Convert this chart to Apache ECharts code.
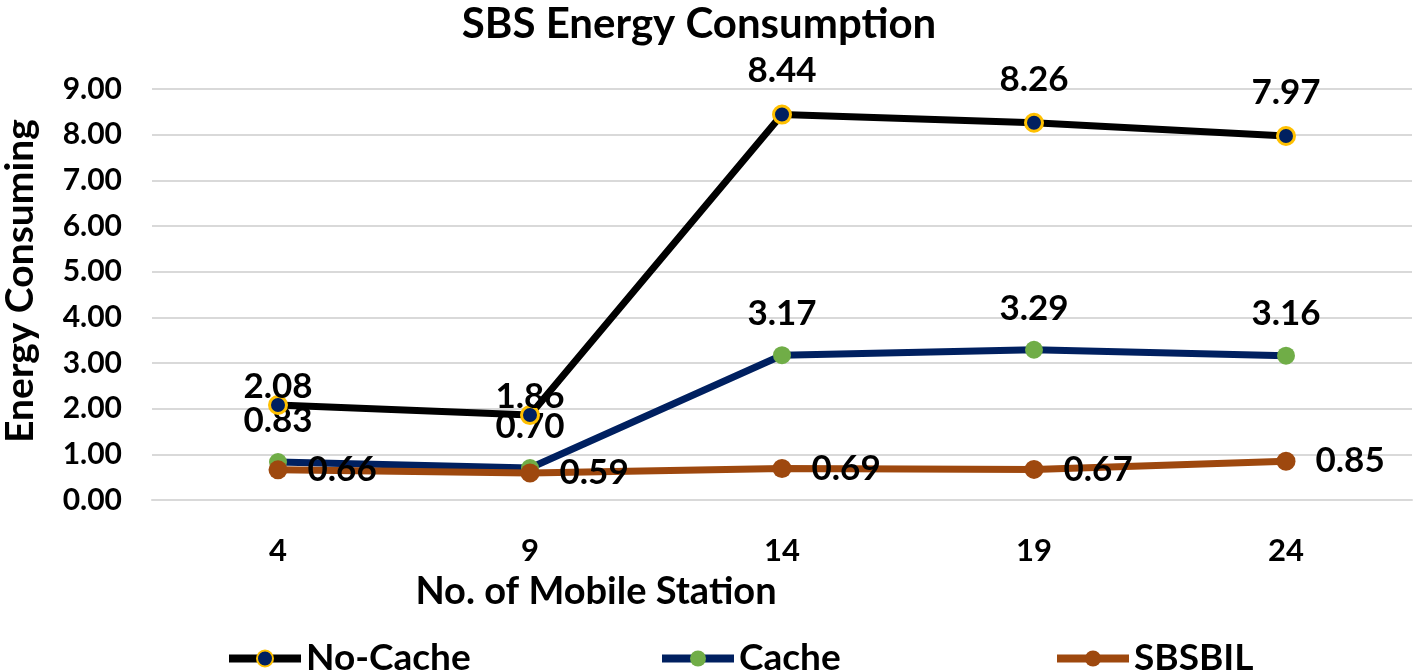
<!DOCTYPE html>
<html>
<head>
<meta charset="utf-8">
<script src="https://cdn.jsdelivr.net/npm/echarts@6/dist/echarts.min.js"></script>
<style>
html,body{margin:0;padding:0;background:#fff;}
#chart{width:1416px;height:671px;}
</style>
</head>
<body>
<div id="chart"></div>
<script>
const categories = ['4', '9', '14', '19', '24'];
const noCache = [2.08, 1.86, 8.44, 8.26, 7.97];
const cache = [0.83, 0.70, 3.17, 3.29, 3.16];
const sbsbil = [0.66, 0.59, 0.69, 0.67, 0.85];
const seriesNames = ['No-Cache', 'Cache', 'SBSBIL'];
const chartTitle = 'SBS Energy Consumption';
const xAxisTitle = 'No. of Mobile Station';
const yAxisTitle = 'Energy Consuming';

const FONT = 'Lato, "Open Sans", sans-serif';
const chart = echarts.init(document.getElementById('chart'), null, {renderer: 'canvas'});

const labelBase = {
  show: true, fontFamily: FONT, fontWeight: 'bold', fontSize: 35, color: '#000',
  formatter: p => Number(p.value).toFixed(2)
};

// No-Cache labels at the two low points sit closer to the markers
const noCacheData = noCache.map((v, i) => (i < 2 ? {value: v, label: {distance: -9}} : v));

const option = {
  animation: false,
  backgroundColor: '#ffffff',
  title: [
    {text: chartTitle, left: 694, top: -2, textAlign: 'center',
     textStyle: {fontFamily: FONT, fontWeight: 'bold', fontSize: 42, color: '#000'}},
    {text: xAxisTitle, left: 591, top: 568, textAlign: 'center',
     textStyle: {fontFamily: FONT, fontWeight: 'bold', fontSize: 38, color: '#000'}}
  ],
  graphic: [{
    type: 'text', x: 20, y: 281, rotation: Math.PI / 2,
    style: {text: yAxisTitle, fontFamily: FONT, fontWeight: 'bold', fontSize: 39, fill: '#000',
            align: 'center', verticalAlign: 'middle'}
  }],
  legend: [
    {data: [seriesNames[0]], left: 220, top: 635},
    {data: [seriesNames[1]], left: 653, top: 635},
    {data: [seriesNames[2]], left: 1048, top: 635}
  ].map(l => Object.assign(l, {
    itemWidth: 72, itemHeight: 20, itemGap: 5,
    lineStyle: {width: 8},
    textStyle: {fontFamily: FONT, fontWeight: 'bold', fontSize: 37, color: '#000'}
  })),
  grid: {left: 152, right: 4, top: 89, bottom: 171, containLabel: false},
  xAxis: {
    type: 'category', data: categories, boundaryGap: true,
    axisLine: {show: true, lineStyle: {color: '#d9d9d9', width: 2}},
    axisTick: {show: false},
    axisLabel: {fontFamily: FONT, fontWeight: 'bold', fontSize: 31, color: '#000', margin: 35}
  },
  yAxis: {
    type: 'value', min: 0, max: 9, interval: 1,
    axisLine: {show: false}, axisTick: {show: false},
    splitLine: {lineStyle: {color: '#d9d9d9', width: 2}},
    axisLabel: {fontFamily: FONT, fontWeight: 'bold', fontSize: 30, color: '#000', margin: 30,
                formatter: v => v.toFixed(2)}
  },
  series: [
    {
      name: seriesNames[0], type: 'line', data: noCacheData,
      symbol: 'circle', symbolSize: 17,
      lineStyle: {color: '#000000', width: 7},
      itemStyle: {color: '#002060', borderColor: '#FFC000', borderWidth: 3},
      label: Object.assign({}, labelBase, {position: 'top', distance: 16}),
      z: 3
    },
    {
      name: seriesNames[1], type: 'line', data: cache,
      symbol: 'circle', symbolSize: 18,
      lineStyle: {color: '#002060', width: 7},
      itemStyle: {color: '#70AD47', borderWidth: 0},
      label: Object.assign({}, labelBase, {position: 'top', distance: 15}),
      z: 2
    },
    {
      name: seriesNames[2], type: 'line', data: sbsbil,
      symbol: 'circle', symbolSize: 19,
      lineStyle: {color: '#9E480E', width: 7},
      itemStyle: {color: '#9E480E', borderWidth: 0},
      label: Object.assign({}, labelBase, {position: 'right', distance: 20}),
      z: 4
    }
  ]
};
chart.setOption(option);
</script>
</body>
</html>
